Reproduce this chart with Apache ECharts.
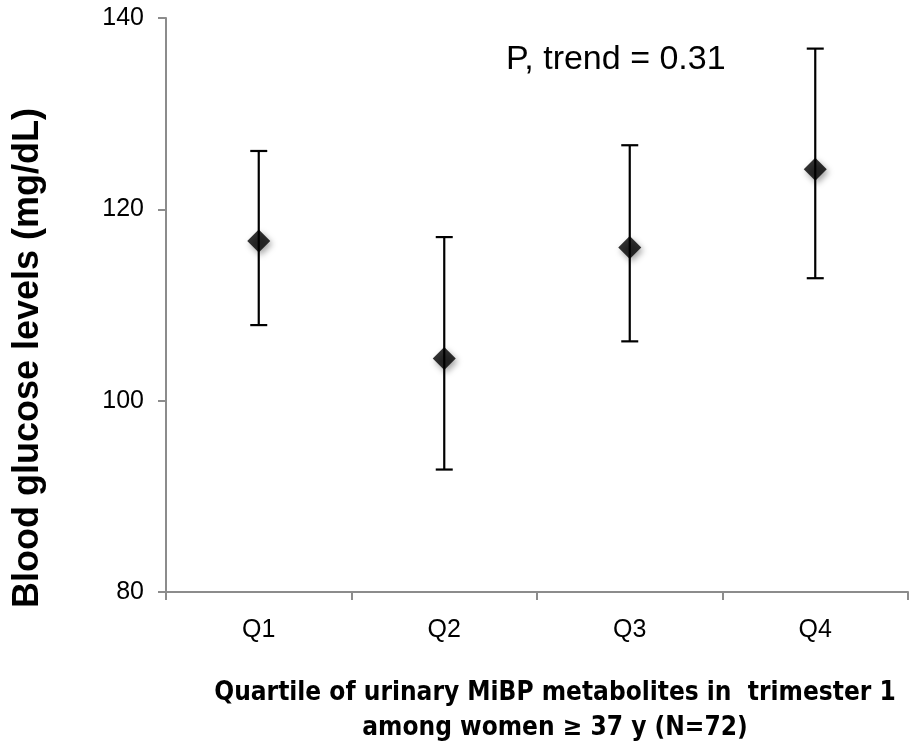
<!DOCTYPE html>
<html>
<head>
<meta charset="utf-8">
<script src="https://cdn.jsdelivr.net/npm/echarts@6/dist/echarts.min.js"></script>
<style>
html,body{margin:0;padding:0;background:#fff;}
#chart{width:918px;height:750px;}
</style>
</head>
<body>
<div id="chart"></div>
<script>
var categories = ['Q1', 'Q2', 'Q3', 'Q4'];
var meanValues = [116.7, 104.4, 116.0, 124.2];
var upperValues = [126.1, 117.1, 126.7, 136.8];
var lowerValues = [107.9, 92.8, 106.2, 112.8];
var yTicks = [80, 100, 120, 140];
var annotation = 'P, trend = 0.31';
var yTitle = 'Blood glucose levels (mg/dL)';
var xTitle = 'Quartile of urinary MiBP metabolites in  trimester 1\namong women \u2265 37 y (N=72)';

var errorData = categories.map(function (c, i) { return [i, lowerValues[i], upperValues[i]]; });

var chart = echarts.init(document.getElementById('chart'), null, {renderer: 'canvas'});
var font = 'Liberation Sans, Arial, sans-serif';
chart.setOption({
  animation: false,
  backgroundColor: '#ffffff',
  grid: {left: 166, right: 10, top: 18, bottom: 158, containLabel: false},
  xAxis: {
    type: 'category',
    data: categories,
    boundaryGap: true,
    axisLine: {lineStyle: {color: '#8c8c8c', width: 2}},
    axisTick: {show: true, length: 8, inside: false, lineStyle: {color: '#8c8c8c', width: 2}},
    axisLabel: {color: '#000', fontSize: 25, fontFamily: font, margin: 26},
    splitLine: {show: false}
  },
  yAxis: {
    type: 'value',
    min: yTicks[0],
    max: yTicks[yTicks.length - 1],
    interval: yTicks[1] - yTicks[0],
    axisLine: {show: true, lineStyle: {color: '#8c8c8c', width: 2}},
    axisTick: {show: true, length: 8, lineStyle: {color: '#8c8c8c', width: 2}},
    axisLabel: {color: '#000', fontSize: 25, fontFamily: font, margin: 22},
    splitLine: {show: false}
  },
  series: [
    {
      type: 'custom',
      data: errorData,
      z: 2,
      renderItem: function (params, api) {
        var x = api.value(0);
        var top = api.coord([x, api.value(2)]);
        var bot = api.coord([x, api.value(1)]);
        var hw = 8.5;
        var style = {stroke: '#000', lineWidth: 2.2};
        return {
          type: 'group',
          children: [
            {type: 'line', shape: {x1: top[0], y1: top[1], x2: bot[0], y2: bot[1]}, style: style},
            {type: 'line', shape: {x1: top[0] - hw, y1: top[1], x2: top[0] + hw, y2: top[1]}, style: style},
            {type: 'line', shape: {x1: bot[0] - hw, y1: bot[1], x2: bot[0] + hw, y2: bot[1]}, style: style}
          ]
        };
      }
    },
    {
      type: 'scatter',
      data: meanValues,
      z: 3,
      symbol: 'diamond',
      symbolSize: [23, 23],
      itemStyle: {color: '#000', shadowBlur: 6, shadowColor: 'rgba(0,0,0,0.45)', shadowOffsetX: 2, shadowOffsetY: 3}
    }
  ],
  graphic: [
    {
      type: 'text',
      x: 506, y: 60,
      style: {text: annotation, font: '34px ' + font, fill: '#000', align: 'left', verticalAlign: 'middle'}
    },
    {
      type: 'text',
      x: 28, y: 358,
      rotation: Math.PI / 2,
      style: {text: yTitle, font: 'bold 36px ' + font, fill: '#000', align: 'center', verticalAlign: 'middle'}
    },
    {
      type: 'text',
      x: 555, y: 711,
      style: {text: xTitle, font: 'bold 26px "Liberation Sans Narrow", "DejaVu Sans Condensed", Arial, sans-serif', fill: '#000', align: 'center', verticalAlign: 'middle', lineHeight: 35}
    }
  ]
});
</script>
</body>
</html>
